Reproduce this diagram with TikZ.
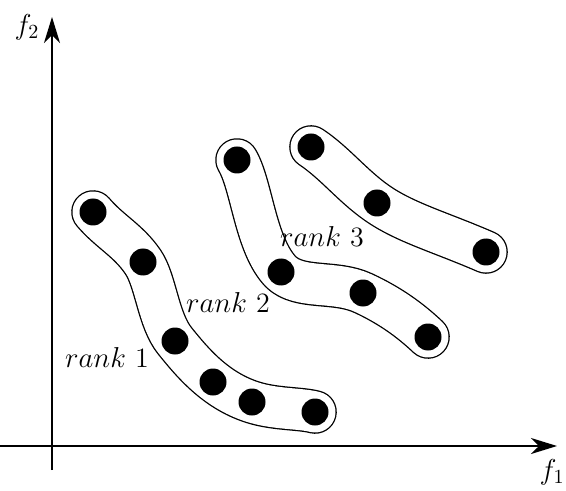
\documentclass[tikz,border=0pt]{standalone}
\usetikzlibrary{arrows.meta}
\begin{document}
\begin{tikzpicture}[x=0.5pt,y=-0.5pt,
  dot/.style={circle,fill=black,minimum size=13.5pt,inner sep=0pt},
  tube/.style={line width=0.65pt,double=white,double distance=20.5pt,line cap=round,line join=round},
  axis/.style={line width=1pt,-{Stealth[length=13pt,width=8pt,inset=4pt]}},
  lbl/.style={font=\fontsize{14}{16}\selectfont,inner sep=0pt}]
\useasboundingbox (0,0) rectangle (566,491);
% axes
\coordinate (xs) at (0,446);
\coordinate (xe) at (557,446);
\coordinate (ys) at (52,470);
\coordinate (ye) at (52,17);
\draw[axis] (xs) -- (xe);
\draw[axis] (ys) -- (ye);
\node[lbl] (f2) at (27,27) {$f_2$};
\node[lbl,anchor=east] (f1) at (565,472) {$f_1$};
% points
\coordinate (a1) at (93,212);
\coordinate (a2) at (143,262);
\coordinate (a3) at (175,341);
\coordinate (a4) at (213,382);
\coordinate (a5) at (252,402);
\coordinate (a6) at (315,412);
\coordinate (b1) at (237,160);
\coordinate (b2) at (281,272);
\coordinate (b3) at (363,293);
\coordinate (b4) at (428,337);
\coordinate (c1) at (311,147);
\coordinate (c2) at (377,203);
\coordinate (c3) at (486,252);
% tubes
\draw[tube] (a1) .. controls (110,232) and (128,240) .. (a2)
  .. controls (156,281) and (158,320) .. (a3)
  .. controls (192,362) and (215,390) .. (a5)
  .. controls (275,409.5) and (300,408) .. (a6);
\draw[tube] (b1) .. controls (252,185) and (255,245) .. (b2)
  .. controls (300,290) and (335,280) .. (b3)
  .. controls (390,305.5) and (410,320) .. (b4);
\draw[tube] (c1) .. controls (335,163) and (352,185.5) .. (c2)
  .. controls (405,222.6) and (440,232) .. (c3);
% dots
\foreach \p in {a1,a2,a3,a4,a5,a6,b1,b2,b3,b4,c1,c2,c3}
  \node[dot] (n\p) at (\p) {};
% labels
\node[lbl] (r1) at (107,357) {$rank$ 1};
\node[lbl] (r2) at (228,302) {$rank$ 2};
\node[lbl] (r3) at (322,237) {$rank$ 3};
\end{tikzpicture}
\end{document}
